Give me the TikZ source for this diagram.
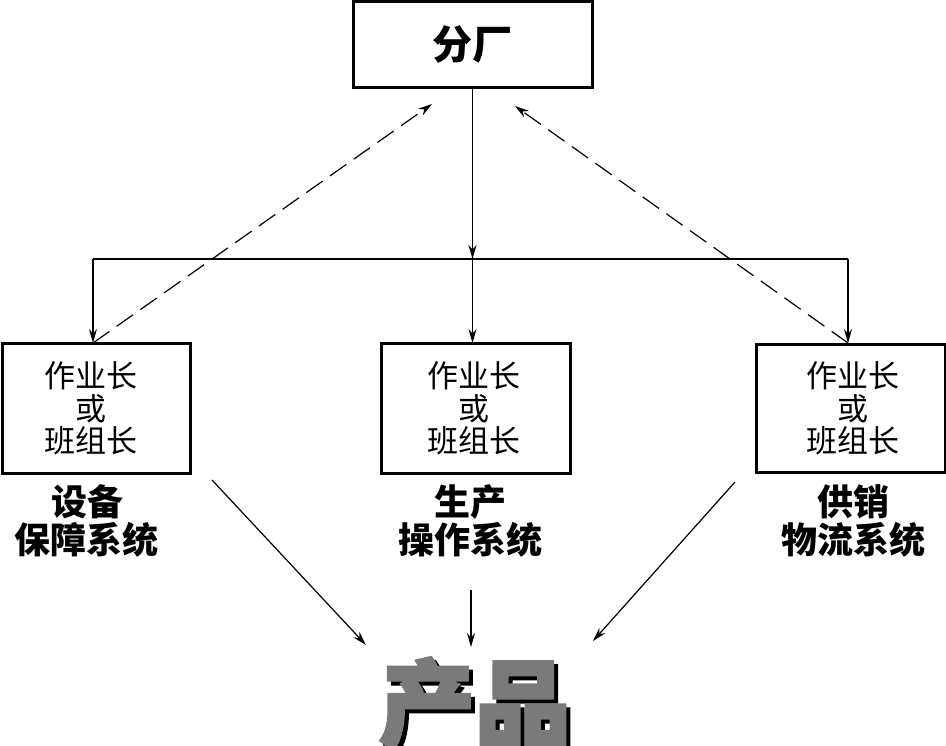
\documentclass[tikz,border=0pt]{standalone}
\usepackage{fontspec}
\usetikzlibrary{arrows.meta}
\newfontfamily\cjk{Noto Sans CJK SC}
\newfontfamily\cjkheavy[FakeBold=3]{Noto Sans CJK SC}
\begin{document}
\begin{tikzpicture}[x=1pt,y=-1pt,
  box/.style={draw,line width=3pt,inner sep=0pt,align=center},
  conn/.style={line width=1.2pt,-{Stealth[length=14pt,width=8pt]}},
  dconn/.style={conn,dash pattern=on 20pt off 9pt},
  boxtext/.style={font=\cjk\fontsize{31}{32.5}\selectfont,align=center},
  lbl/.style={font=\cjk\bfseries\fontsize{36}{38}\selectfont,align=center}]
\useasboundingbox (0,0) rectangle (946,746);
% top box
\node[box,minimum width=239pt,minimum height=86pt,font=\cjk\bfseries\fontsize{40}{44}\selectfont] (top) at (472.5,45) {分厂};
% boxes
\node[box,minimum width=188pt,minimum height=129pt] (L) at (96,408.5) {};
\node[box,minimum width=189pt,minimum height=129pt] (M) at (475.5,408.5) {};
\node[box,minimum width=189pt,minimum height=127pt] (R) at (850.5,408.5) {};
\node[boxtext] (Lt) at (91,408.5) {作业长\\或\\班组长};
\node[boxtext] (Mt) at (474,408.5) {作业长\\或\\班组长};
\node[boxtext] (Rt) at (853,408.5) {作业长\\或\\班组长};
% labels
\node[lbl] (Ll) at (87,521) {设备\\保障系统};
\node[lbl] (Ml) at (470,521) {生产\\操作系统};
\node[lbl] (Rl) at (853,521) {供销\\物流系统};
% product
\node[font=\cjkheavy\bfseries\fontsize{96}{100}\selectfont,text=black,inner sep=0pt] (pS) at (479,708) {产品};
\node[font=\cjkheavy\bfseries\fontsize{96}{100}\selectfont,text=black!52,inner sep=0pt] (p) at (475,704) {产品};
% coordinates
\coordinate (jL) at (93,259);
\coordinate (jM) at (472.5,259);
\coordinate (jR) at (848,259);
\coordinate (Mtop) at (472.5,343);
\coordinate (Ltop) at (93,343);
\coordinate (Rtop) at (848,343);
\coordinate (dL) at (432,104);
\coordinate (dR) at (515,106);
\coordinate (aL0) at (212,480);
\coordinate (aL1) at (366,645);
\coordinate (aM0) at (471,590);
\coordinate (aM1) at (471,647);
\coordinate (aR0) at (735,482);
\coordinate (aR1) at (593,641);
% connectors
\draw[conn] (top.south) -- (jM);
\draw[line width=1.2pt] (jL) -- (jR);
\draw[conn] (jM) -- (Mtop);
\draw[conn] (jL) -- (Ltop);
\draw[conn] (jR) -- (Rtop);
\draw[dconn] (Ltop) -- (dL);
\draw[dconn] (Rtop) -- (dR);
\draw[conn] (aL0) -- (aL1);
\draw[conn] (aM0) -- (aM1);
\draw[conn] (aR0) -- (aR1);
\end{tikzpicture}
\end{document}
